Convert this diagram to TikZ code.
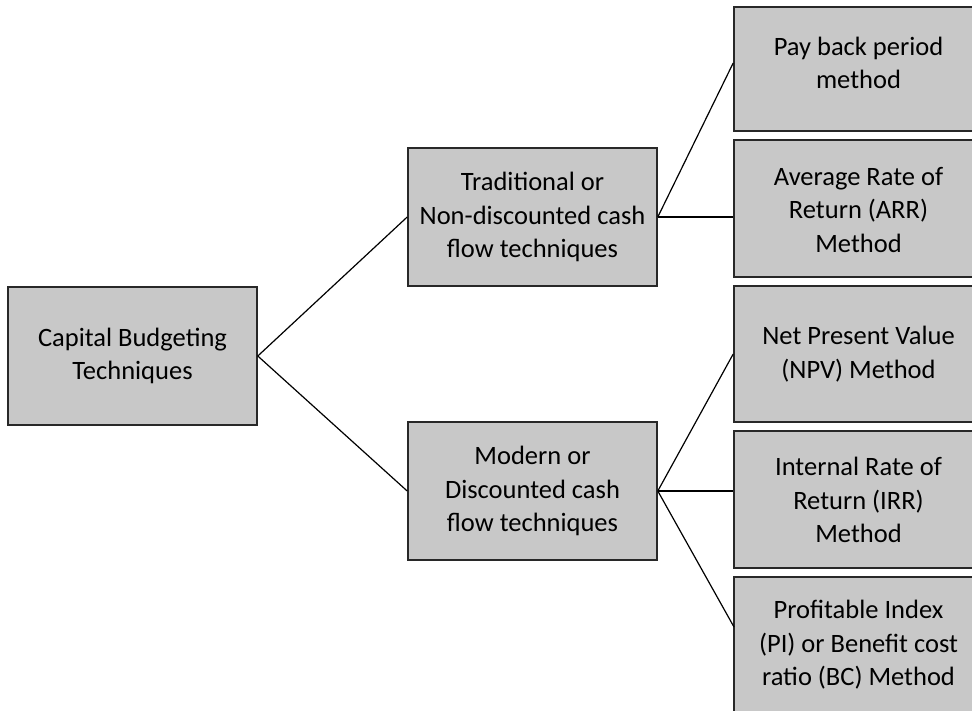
\documentclass[tikz,border=0pt]{standalone}
\usepackage{fontspec}
\setmainfont{Carlito}
\definecolor{boxgray}{RGB}{200,200,200}
\definecolor{edgegray}{RGB}{40,40,40}
\begin{document}
\begin{tikzpicture}[x=1pt,y=-1pt,
  box/.style={draw=edgegray, line width=1.6pt, fill=boxgray, minimum width=249pt, minimum height=137pt, inner sep=0pt},
  rbox/.style={box, minimum width=300pt},
  lbl/.style={font=\fontsize{26.5}{33.5}\selectfont, align=center, text=black, inner sep=0pt},
  conn/.style={line width=1.2pt, draw=black}]
\useasboundingbox (0,0) rectangle (972,710);
\clip (0,0) rectangle (972,710);
\node[box, lbl, minimum height=138pt] (cap) at (132.5,356) {Capital Budgeting\\Techniques};
\node[box, lbl, minimum height=138pt] (trad) at (532.5,217) {Traditional or\\Non-discounted cash\\flow techniques};
\node[box, lbl, minimum height=138pt] (mod) at (532.5,491) {Modern or\\Discounted cash\\flow techniques};
\node[rbox, minimum height=124pt] (b1) at (884,69) {};
\node[rbox] (b2) at (884,208.5) {};
\node[rbox, minimum height=136pt] (b3) at (884,354) {};
\node[rbox] (b4) at (884,499.5) {};
\node[rbox] (b5) at (884,645.5) {};
\node[lbl] (b1t) at (858.5,63) {Pay back period\\method};
\node[lbl] (b2t) at (858.5,210) {Average Rate of\\Return (ARR)\\Method};
\node[lbl] (b3t) at (858.5,354) {Net Present Value\\(NPV) Method};
\node[lbl] (b4t) at (858.5,500) {Internal Rate of\\Return (IRR)\\Method};
\node[lbl] (b5t) at (858.5,645) {Profitable Index\\(PI) or Benefit cost\\ratio (BC) Method};
\coordinate (e5) at (734,627);
\draw[conn] (cap.east) -- (trad.west);
\draw[conn] (cap.east) -- (mod.west);
\draw[conn] (trad.east) -- (b1.west |- b1t.center);
\draw[conn] (trad.east) -- (trad.east -| b2.west);
\draw[conn] (mod.east) -- (b3.west);
\draw[conn] (mod.east) -- (mod.east -| b4.west);
\draw[conn] (mod.east) -- (e5);
\end{tikzpicture}
\end{document}
